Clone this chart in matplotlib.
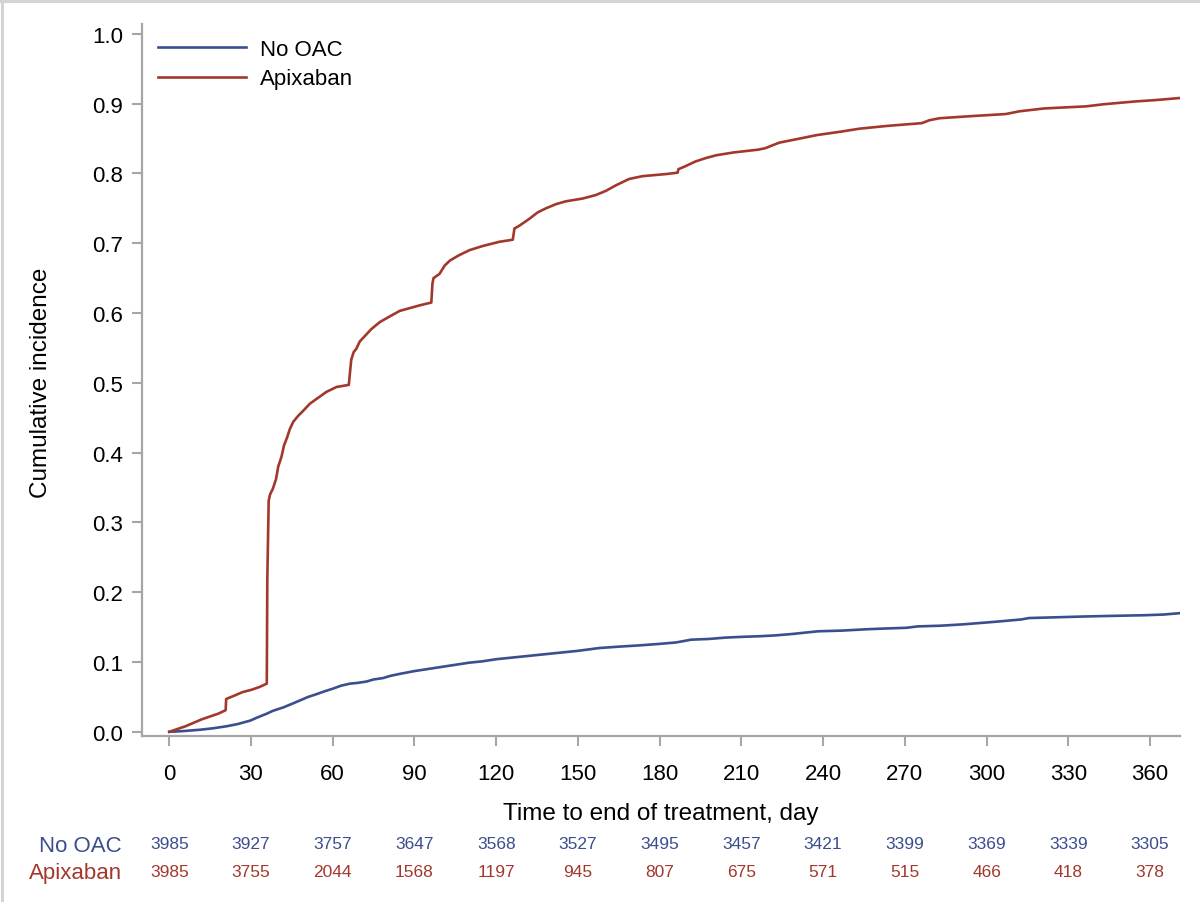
import matplotlib
matplotlib.use("Agg")
import matplotlib.pyplot as plt
import matplotlib.transforms as mtransforms
from matplotlib.lines import Line2D

plt.rcParams['font.family'] = ['Liberation Sans', 'DejaVu Sans']

# cumulative incidence (day, value)
noac_day = [0, 5, 11.4, 16, 21.1, 25, 29.7, 32, 35.8, 38,
            41.9, 45, 48, 51, 54.1, 57, 60.2, 63, 66.3, 69,
            72.4, 75, 78.5, 81, 84.6, 90, 95, 100, 105, 110,
            115, 120, 125, 130, 135, 140, 145, 150, 157.8, 165,
            173.3, 180, 186, 191.6, 198, 204.3, 210, 217, 222, 228.3,
            238.1, 247, 256.4, 263, 270.5, 274.7, 283, 291.6, 298, 304.3,
            312.8, 315.6, 325, 333.9, 345, 357.8, 365, 371]
noac_cum = [0, 0.001, 0.003, 0.005, 0.008, 0.011, 0.016, 0.020, 0.026, 0.030,
            0.035, 0.040, 0.045, 0.050, 0.054, 0.058, 0.062, 0.066, 0.069, 0.070,
            0.072, 0.075, 0.077, 0.080, 0.083, 0.087, 0.090, 0.093, 0.096, 0.099,
            0.101, 0.104, 0.106, 0.108, 0.110, 0.112, 0.114, 0.116, 0.120, 0.122,
            0.124, 0.126, 0.128, 0.132, 0.133, 0.135, 0.136, 0.137, 0.138, 0.140,
            0.144, 0.145, 0.147, 0.148, 0.149, 0.151, 0.152, 0.154, 0.156, 0.158,
            0.161, 0.163, 0.164, 0.165, 0.166, 0.167, 0.168, 0.170]

apx_day = [0, 3, 6, 9, 12, 15, 18, 20.7, 20.9, 24,
           27, 30, 33, 35.8, 36, 36.5, 37, 38, 39.2, 40,
           41.2, 42.1, 43.1, 44.3, 45.5, 47.4, 49.2, 51.6, 54.1, 57.7,
           61.4, 65.9, 66.3, 66.8, 67.7, 68.7, 69.9, 71.8, 74.2, 77.3,
           80.9, 84.6, 88.3, 92, 96.2, 96.6, 97, 99.2, 101.1, 103,
           106, 110.2, 115.1, 121.2, 126.1, 126.7, 128.5, 132.2, 135.2, 138.3,
           142, 145.6, 151.8, 156.6, 160.3, 164, 168.8, 173.7, 176.5, 182.3,
           186.6, 186.9, 189.3, 193.1, 197, 200.8, 207.2, 216.2, 218.7, 223.9,
           230.3, 237.9, 246.9, 253.3, 263.5, 276.3, 278.9, 282.7, 294.3, 307,
           312.2, 321.1, 336.5, 342.9, 354.4, 362, 371]
apx_cum = [0.0, 0.004, 0.008, 0.013, 0.018, 0.022, 0.026, 0.031, 0.047, 0.052,
           0.057, 0.060, 0.064, 0.069, 0.219, 0.331, 0.340, 0.348, 0.362, 0.380,
           0.394, 0.410, 0.420, 0.434, 0.444, 0.453, 0.460, 0.470, 0.477, 0.487,
           0.494, 0.497, 0.513, 0.533, 0.544, 0.549, 0.559, 0.567, 0.577, 0.587,
           0.595, 0.603, 0.607, 0.611, 0.615, 0.642, 0.650, 0.656, 0.668, 0.675,
           0.682, 0.690, 0.696, 0.702, 0.705, 0.721, 0.725, 0.735, 0.744, 0.750,
           0.756, 0.760, 0.764, 0.769, 0.775, 0.783, 0.792, 0.796, 0.797, 0.799,
           0.801, 0.806, 0.810, 0.817, 0.822, 0.826, 0.830, 0.834, 0.836, 0.844,
           0.849, 0.855, 0.860, 0.864, 0.868, 0.872, 0.876, 0.879, 0.882, 0.885,
           0.889, 0.893, 0.896, 0.899, 0.903, 0.905, 0.908]

# number at risk
risk_day = [0, 30, 60, 90, 120, 150, 180, 210, 240, 270, 300, 330, 360]
noac_risk = [3985, 3927, 3757, 3647, 3568, 3527, 3495, 3457, 3421, 3399, 3369, 3339, 3305]
apx_risk = [3985, 3755, 2044, 1568, 1197, 945, 807, 675, 571, 515, 466, 418, 378]

blue = '#3b4e8e'
red = '#a2382c'
grey = '#a6a6a6'

fig = plt.figure(figsize=(12, 9.03), dpi=100)
ax = fig.add_axes([142/1200, 166/903, 1038/1200, 712/903])

ax.plot(noac_day, noac_cum, color=blue, lw=1.9, label='No OAC')
ax.plot(apx_day, apx_cum, color=red, lw=1.9, label='Apixaban')

ax.set_xlim(-10, 371)
ax.set_ylim(-0.006, 1.014)
ax.set_xticks(risk_day)
ax.set_yticks([i / 10 for i in range(11)])
ax.set_yticklabels(['%.1f' % (i / 10) for i in range(11)])

for s in ['top', 'right']:
    ax.spines[s].set_visible(False)
for s in ['left', 'bottom']:
    ax.spines[s].set_color(grey)
    ax.spines[s].set_linewidth(1.6)
ax.tick_params(direction='out', length=7.5, width=1.5, color=grey,
               labelsize=16, labelcolor='black')
ax.tick_params(axis='x', pad=12)
ax.tick_params(axis='y', pad=6)

leg = ax.legend(loc='upper left', bbox_to_anchor=(0.015, 0.979), frameon=False,
                fontsize=16, handlelength=4.0, handletextpad=0.6,
                labelspacing=0.38, borderpad=0, borderaxespad=0)

fig.text(661/1200, (903-820)/903, 'Time to end of treatment, day',
         fontsize=17.5, ha='center', va='baseline')
fig.text(47/1200, 1 - 383/903, 'Cumulative incidence', fontsize=17.5,
         rotation=90, rotation_mode='anchor', ha='center', va='baseline')

# risk table
tr = mtransforms.blended_transform_factory(ax.transData, fig.transFigure)
fig.text(122/1200, (903-852)/903, 'No OAC', color=blue, fontsize=16,
         ha='right', va='baseline')
fig.text(122/1200, (903-879)/903, 'Apixaban', color=red, fontsize=16,
         ha='right', va='baseline')
for d, n1, n2 in zip(risk_day, noac_risk, apx_risk):
    ax.text(d, (903-849)/903, str(n1), transform=tr, color=blue,
            fontsize=12.5, ha='center', va='baseline')
    ax.text(d, (903-877)/903, str(n2), transform=tr, color=red,
            fontsize=12.5, ha='center', va='baseline')

# thin grey frame along top and left edge
fig.add_artist(Line2D([0, 1], [1 - 1.5/903, 1 - 1.5/903], transform=fig.transFigure,
                      color='#d4d4d4', lw=2.2))
fig.add_artist(Line2D([1.5/1200, 1.5/1200], [0, 1], transform=fig.transFigure,
                      color='#d4d4d4', lw=2.2))

fig.savefig('out.png', dpi=100)
